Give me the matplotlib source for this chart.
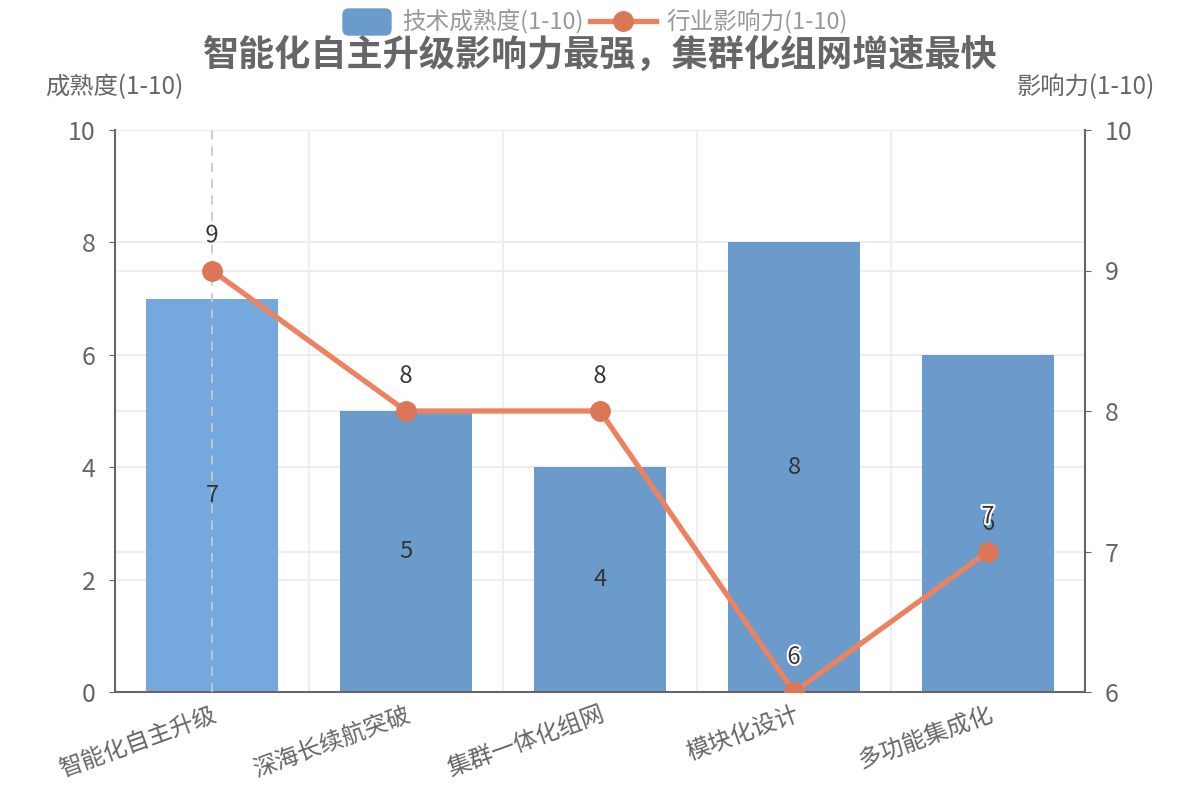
import matplotlib
matplotlib.use("Agg")
import matplotlib.pyplot as plt
import matplotlib.patheffects as pe
from matplotlib.lines import Line2D
from matplotlib.patches import FancyBboxPatch

plt.rcParams['font.family'] = ['Noto Sans CJK SC', 'DejaVu Sans']

categories = ["智能化自主升级", "深海长续航突破", "集群一体化组网", "模块化设计", "多功能集成化"]
maturity = [7, 5, 4, 8, 6]
impact = [9, 8, 8, 6, 7]
left_ticks = [0, 2, 4, 6, 8, 10]
right_ticks = [6, 7, 8, 9, 10]
title = "智能化自主升级影响力最强，集群化组网增速最快"
bar_name = "技术成熟度(1-10)"
line_name = "行业影响力(1-10)"
left_axis_name = "成熟度(1-10)"
right_axis_name = "影响力(1-10)"

BAR = "#6a9bcb"
BAR_HI = "#75a9de"
LINE = "#ec8360"
MARK = "#db7656"
GRID = "#eeeeee"
AX = "#666666"
TXT = "#666666"

fig = plt.figure(figsize=(12, 8), dpi=100)
ax = fig.add_axes([115/1200, 108/800, 970/1200, 562/800])
ax2 = ax.twinx()

x = list(range(len(categories)))
colors = [BAR_HI] + [BAR] * (len(categories) - 1)
bars = ax.bar(x, maturity, width=0.685, color=colors, zorder=2)
ax.set_xlim(-0.5, len(categories) - 0.5)
ax.set_ylim(0, 10)
ax2.set_ylim(6, 10)
ax.set_yticks(left_ticks)
ax2.set_yticks(right_ticks)

# gridlines (behind bars)
for t in left_ticks:
    ax.axhline(t, color=GRID, lw=1.5, zorder=0)
for t in right_ticks:
    ax.axhline((t - 6) * 10 / 4, color=GRID, lw=1.5, zorder=0)
for b in [0.5, 1.5, 2.5, 3.5]:
    ax.axvline(b, color=GRID, lw=1.5, zorder=0)

# hover axis pointer
ax.axvline(0, color="#c8c8c8", lw=1.3, ls=(0, (5, 4)), zorder=3)

# bar labels
for xi, v in zip(x, maturity):
    ax.text(xi, v / 2, str(v), ha='center', va='center', fontsize=17, color="#333333", zorder=4)

ax2.plot(x, impact, color=LINE, lw=3.8, zorder=5)
ax2.plot(x, impact, 'o', color=MARK, ms=14, zorder=6)
for xi, v in zip(x, impact):
    ax2.annotate(str(v), (xi, v), xytext=(0, 25), textcoords='offset points',
                 ha='center', va='center', fontsize=17, color="#333333", zorder=7,
                 path_effects=[pe.withStroke(linewidth=3, foreground='white')])

for a in (ax, ax2):
    a.spines['top'].set_visible(False)
    for s in ('left', 'right', 'bottom'):
        a.spines[s].set_color(AX)
        a.spines[s].set_linewidth(1.5)
ax2.spines['left'].set_visible(False)
ax.spines['right'].set_visible(False)
ax2.spines['bottom'].set_visible(False)

ax.tick_params(axis='y', length=4, color=AX, labelsize=18, labelcolor=TXT, pad=10)
ax2.tick_params(axis='y', length=4, color=AX, labelsize=18, labelcolor=TXT, pad=10)
ax.set_xticks(x)
ax.set_xticklabels(categories, rotation=20, ha='right', va='top', rotation_mode='anchor',
                   fontsize=17, color=TXT)
ax.tick_params(axis='x', length=0, pad=8)

# axis names
fig.text(45/1200, 1 - 87/800, left_axis_name, ha='left', va='center', fontsize=17.5, color=TXT)
fig.text(1155/1200, 1 - 87/800, right_axis_name, ha='right', va='center', fontsize=17.5, color=TXT)

# title
fig.text(0.5, 1 - 55/800, title, ha='center', va='center', fontsize=26, fontweight='bold', color="#666666")

# legend
legax = fig.add_axes([0, 0, 1, 1], facecolor='none')
legax.set_xlim(0, 1200)
legax.set_ylim(800, 0)
legax.axis('off')
legax.add_patch(FancyBboxPatch((343, 9), 48, 26, boxstyle="round,pad=0,rounding_size=6",
                               color=BAR, transform=legax.transData))
legax.text(402, 21, bar_name, ha='left', va='center', fontsize=17, color="#999999")
legax.add_line(Line2D([590, 656], [21, 21], color=LINE, lw=3.8))
legax.plot([623], [21], 'o', color=MARK, ms=14)
legax.text(666, 21, line_name, ha='left', va='center', fontsize=17, color="#999999")

fig.savefig("out.png", dpi=100)
